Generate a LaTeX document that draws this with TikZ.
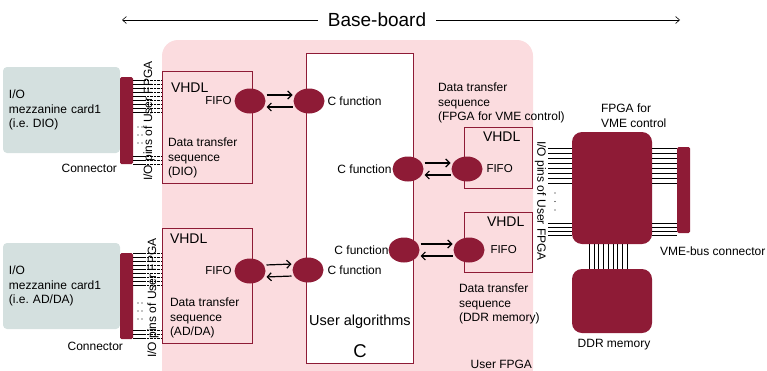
\documentclass[tikz,border=0pt]{standalone}
\usepackage{fontspec}
\setmainfont{Liberation Sans}
\usepackage{tikz}
\usetikzlibrary{positioning,shapes.geometric,arrows.meta}
\definecolor{wine}{HTML}{8E1B36}
\definecolor{blush}{HTML}{FBDCDF}
\definecolor{sage}{HTML}{D4E0DF}
\frenchspacing

\begin{document}
\begin{tikzpicture}[x=1pt, y=-1pt, font=\fontsize{12}{14.5}\selectfont,
  every node/.style={inner sep=0pt, outer sep=0pt},
  port/.style={ellipse, fill=wine, minimum width=31pt, minimum height=25pt},
  vhdlbox/.style={draw=wine, line width=1pt, fill=blush, anchor=north west},
  chip/.style={fill=wine, rounded corners=10pt, anchor=north west, minimum width=80pt},
  card/.style={fill=sage, rounded corners=4pt, anchor=north west, minimum width=117pt, minimum height=86pt, text width=105pt, align=left},
  plug/.style={fill=wine, rounded corners=1.5pt, anchor=north west, minimum width=13pt},
  lbl/.style={anchor=west, align=left},
  big/.style={font=\fontsize{14}{16}\selectfont},
  fifotxt/.style={font=\fontsize{11.5}{13}\selectfont},
  flow/.style={-{Straight Barb[length=4pt,width=8pt]}, line width=1.2pt, shorten <=1pt, shorten >=1pt}]
\useasboundingbox (0,0) rectangle (767,370);

% base-board span
\node[font=\fontsize{19}{22}\selectfont] (baseboard) at (377,20) {Base-board};
\coordinate (bbL) at (122,20);
\coordinate (bbR) at (680,20);
\draw[-{Straight Barb[length=4pt,width=7pt]}, semithick] ([xshift=-10pt]baseboard.west) -- (bbL);
\draw[-{Straight Barb[length=4pt,width=7pt]}, semithick] ([xshift=10pt]baseboard.east) -- (bbR);

% user FPGA area
\node[fill=blush, rounded corners=16pt, anchor=north west, minimum width=371pt, minimum height=345pt] (board) at (162,40) {};
\node[anchor=east] (userfpga) at (532,364) {User FPGA};

% mezzanine cards and connectors
\node[card] (cardA) at (3,67) {I/O\\mezzanine card1\\(i.e. DIO)};
\node[card] (cardB) at (3,243) {I/O\\mezzanine card1\\(i.e. AD/DA)};
\node[plug, minimum height=87pt] (connA) at (120,77) {};
\node[plug, minimum height=86pt] (connB) at (120,253) {};
\node[anchor=east] (connAlbl) at (117,168) {Connector};
\node[anchor=east] (connBlbl) at (123,346) {Connector};

% C side
\node[draw=wine, line width=1pt, fill=white, anchor=north west, minimum width=107pt, minimum height=310pt] (algo) at (306,53) {};
\node[font=\fontsize{14.5}{16}\selectfont] (algoname) at (360,322) {User algorithms};
\node[font=\fontsize{18.5}{20}\selectfont] (algolang) at (360,351) {C};

% VHDL blocks
\node[vhdlbox, minimum width=90pt, minimum height=112pt] (vhdlA) at (162,71) {};
\node[vhdlbox, minimum width=90pt, minimum height=115pt] (vhdlB) at (162,228) {};
\node[vhdlbox, minimum width=68pt, minimum height=61pt] (vhdlC) at (464,127) {};
\node[vhdlbox, minimum width=68pt, minimum height=60pt] (vhdlD) at (464,212) {};
\node[big, below right=12pt and 9pt of vhdlA.north west] (vhdlAlbl) {VHDL};
\node[big, below right=6pt and 8pt of vhdlB.north west] (vhdlBlbl) {VHDL};
\node[big, below right=5pt and 19pt of vhdlC.north west] (vhdlClbl) {VHDL};
\node[big, below right=5pt and 23pt of vhdlD.north west] (vhdlDlbl) {VHDL};

% pins, left
\foreach \y in {80,84,...,112,156,160,164} {
  \draw (133,\y) -- (144,\y);
  \draw[densely dotted] (144,\y) -- (162,\y);
}
\foreach \y in {253,257,...,285,330,334,338} {
  \draw (133,\y) -- (144,\y);
  \draw[densely dotted] (144,\y) -- (162,\y);
}
\foreach \x in {138,142} {
  \foreach \y in {127,135,143} \fill (\x,\y) circle (0.7);
  \foreach \y in {303,311,319} \fill (\x,\y) circle (0.7);
}
\node[rotate=90] (pinsA) at (149,121) {I/O pins of User FPGA};
\node[rotate=90] (pinsB) at (153,298) {I/O pins of User FPGA};

% VME control FPGA and memory
\node[chip, minimum height=112pt] (vmefpga) at (572,132) {};
\node[chip, minimum height=64pt] (ddr) at (572,269) {};
\node[plug, minimum height=86pt] (vmeconn) at (677,147) {};
\foreach \y in {148,153,...,183,223,227,231,235} {
  \draw (548,\y) -- (572,\y);
  \draw (652,\y) -- (677,\y);
}
\foreach \y in {193,201.5,210} \fill (555,\y) circle (0.7);
\foreach \x in {589,593.75,...,628} \draw (\x,244) -- (\x,269);
\node[rotate=-90] (pinsC) at (540.5,201) {I/O pins of User FPGA};
\node[lbl] (vmefpgalbl) at (601,115.5) {FPGA for\\VME control};
\node[lbl] (vmeconnlbl) at (660,251) {VME-bus connector};
\node (ddrlbl) at (614,345) {DDR memory};

% FIFOs and C functions
\node[port] (fifoA) at (250,101) {};
\node[port] (cfA) at (309,101) {};
\node[port] (cfC) at (408,169) {};
\node[port] (fifoC) at (467,169) {};
\node[port] (cfD) at (404,250) {};
\node[port] (fifoD) at (469,250) {};
\node[port] (cfB) at (308,270) {};
\node[port] (fifoB) at (250,271) {};

\draw[flow] ([yshift=6pt]fifoA.east) -- ([yshift=6pt]cfA.west);
\draw[flow] ([yshift=-6pt]cfA.west) -- ([yshift=-6pt]fifoA.east);
\draw[flow] ([yshift=6pt]fifoB.east) -- ([yshift=6pt]cfB.west);
\draw[flow] ([yshift=-6pt]cfB.west) -- ([yshift=-6pt]fifoB.east);
\draw[flow] ([yshift=6pt]cfC.east) -- ([yshift=6pt]fifoC.west);
\draw[flow] ([yshift=-6pt]fifoC.west) -- ([yshift=-6pt]cfC.east);
\draw[flow] ([yshift=6pt]cfD.east) -- ([yshift=6pt]fifoD.west);
\draw[flow] ([yshift=-6pt]fifoD.west) -- ([yshift=-6pt]cfD.east);

\node[fifotxt, left=3pt of fifoA] (fifoAlbl) {FIFO};
\node[fifotxt, left=3pt of fifoB] (fifoBlbl) {FIFO};
\node[fifotxt, right=4pt of fifoC] (fifoClbl) {FIFO};
\node[fifotxt, right=6pt of fifoD] (fifoDlbl) {FIFO};
\node[right=3pt of cfA] (cfAlbl) {C function};
\node[right=4pt of cfB] (cfBlbl) {C function};
\node[left=1pt of cfC] (cfClbl) {C function};
\node[left=0pt of cfD] (cfDlbl) {C function};

% data transfer notes
\node[lbl] (seqA) at (168,158) {Data transfer\\sequence\\(DIO)};
\node[lbl] (seqB) at (170,318) {Data transfer\\sequence\\(AD/DA)};
\node[lbl] (seqC) at (438,103) {Data transfer\\sequence\\(FPGA for VME control)};
\node[lbl] (seqD) at (459,304) {Data transfer\\sequence\\(DDR memory)};
\end{tikzpicture}
\end{document}
